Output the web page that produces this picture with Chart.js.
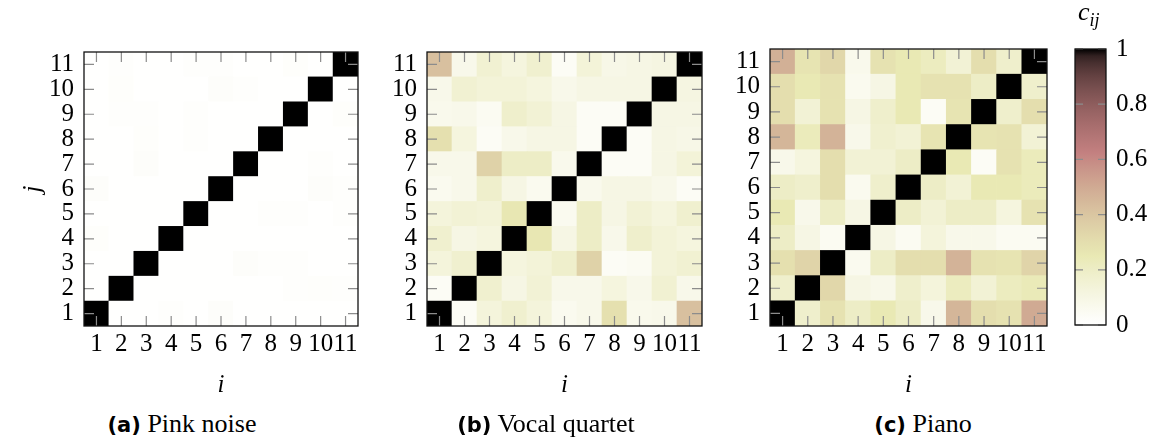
<!DOCTYPE html>
<html>
<head>
<meta charset="utf-8">
<script src="https://cdn.jsdelivr.net/npm/chart.js@4.4.1/dist/chart.umd.min.js"></script>
<style>
  body { margin: 0; background: #fff; }
  #wrap { position: relative; width: 1165px; height: 443px; overflow: hidden; background: #fff; }
  canvas { position: absolute; }
  .cap { position: absolute; top: 409px; line-height: 30px; font-family: 'Liberation Serif', serif; font-size: 26px;
         white-space: nowrap; transform: translateX(-50%); color: #000; }
  .cap b { font-family: 'DejaVu Sans', sans-serif; font-size: 21px; }
  #cij { position: absolute; left: 1078px; top: -3px; line-height: 30px; font-family: 'Liberation Serif', serif;
         font-style: italic; font-size: 26px; }
  #cij sub { font-size: 18px; }
</style>
</head>
<body>
<div id="wrap">
  <canvas id="pinkChart" width="352" height="358" style="left:14px;top:42px"></canvas>
  <canvas id="vocalChart" width="353" height="358" style="left:357px;top:42px"></canvas>
  <canvas id="pianoChart" width="355" height="361" style="left:700px;top:39px"></canvas>
  <canvas id="barChart" width="105" height="310" style="left:1060px;top:30px"></canvas>
  <div class="cap" style="left:182px"><b>(a)</b> Pink noise</div>
  <div class="cap" style="left:546px"><b>(b)</b> Vocal quartet</div>
  <div class="cap" style="left:923px"><b>(c)</b> Piano</div>
  <div id="cij">c<sub>ij</sub></div>
</div>
<script>
// tick labels
const iLabels = ['1', '2', '3', '4', '5', '6', '7', '8', '9', '10', '11'];
const jLabels = ['1', '2', '3', '4', '5', '6', '7', '8', '9', '10', '11'];
const colorbarTicks = [0, 0.2, 0.4, 0.6, 0.8, 1];

// c_ij, one row per j (j = 1 first), columns i = 1..11
const pinkNoise = [
  [1, 0.005, 0.005, 0.012, 0.005, 0.02, 0.005, 0.005, 0.005, 0.005, 0.005],
  [0.005, 1, 0.005, 0.005, 0.005, 0.005, 0.005, 0.005, 0.01, 0.015, 0.01],
  [0.005, 0.005, 1, 0.005, 0.005, 0.005, 0.018, 0.012, 0.01, 0.005, 0.005],
  [0.015, 0.005, 0.005, 1, 0.005, 0.005, 0.005, 0.005, 0.005, 0.005, 0.005],
  [0.005, 0.005, 0.005, 0.005, 1, 0.005, 0.005, 0.01, 0.01, 0.005, 0.01],
  [0.02, 0.005, 0.005, 0.005, 0.005, 1, 0.005, 0.005, 0.005, 0.018, 0.01],
  [0.005, 0.005, 0.02, 0.005, 0.005, 0.005, 1, 0.005, 0.005, 0.01, 0.005],
  [0.005, 0.005, 0.015, 0.005, 0.01, 0.005, 0.005, 1, 0.005, 0.005, 0.005],
  [0.005, 0.01, 0.01, 0.005, 0.01, 0.005, 0.005, 0.005, 1, 0.005, 0.015],
  [0.005, 0.015, 0.005, 0.005, 0.005, 0.018, 0.01, 0.005, 0.005, 1, 0.005],
  [0.005, 0.01, 0.005, 0.005, 0.01, 0.01, 0.005, 0.005, 0.015, 0.005, 1]
];

const vocalQuartet = [
  [1, 0.04, 0.13, 0.17, 0.13, 0.06, 0.08, 0.29, 0.07, 0.08, 0.42],
  [0.04, 1, 0.17, 0.10, 0.15, 0.08, 0.08, 0.12, 0.08, 0.16, 0.08],
  [0.13, 0.17, 1, 0.12, 0.14, 0.18, 0.35, 0.04, 0.05, 0.14, 0.16],
  [0.17, 0.10, 0.12, 1, 0.26, 0.10, 0.20, 0.08, 0.18, 0.14, 0.12],
  [0.13, 0.15, 0.14, 0.26, 1, 0.06, 0.20, 0.10, 0.15, 0.12, 0.17],
  [0.06, 0.08, 0.18, 0.10, 0.06, 1, 0.07, 0.10, 0.10, 0.08, 0.04],
  [0.08, 0.08, 0.35, 0.20, 0.20, 0.07, 1, 0.04, 0.04, 0.10, 0.14],
  [0.29, 0.12, 0.04, 0.08, 0.10, 0.10, 0.04, 1, 0.04, 0.10, 0.09],
  [0.07, 0.08, 0.05, 0.18, 0.15, 0.10, 0.04, 0.04, 1, 0.10, 0.10],
  [0.08, 0.16, 0.14, 0.14, 0.12, 0.08, 0.10, 0.10, 0.10, 1, 0.11],
  [0.42, 0.08, 0.16, 0.12, 0.17, 0.04, 0.14, 0.09, 0.10, 0.11, 1]
];

const piano = [
  [1, 0.18, 0.28, 0.20, 0.25, 0.20, 0.08, 0.46, 0.30, 0.28, 0.50],
  [0.18, 1, 0.33, 0.10, 0.08, 0.18, 0.13, 0.22, 0.15, 0.22, 0.24],
  [0.29, 0.34, 1, 0.06, 0.20, 0.30, 0.30, 0.47, 0.28, 0.27, 0.34],
  [0.20, 0.10, 0.05, 1, 0.10, 0.05, 0.13, 0.08, 0.08, 0.05, 0.05],
  [0.25, 0.08, 0.20, 0.10, 1, 0.20, 0.15, 0.20, 0.20, 0.12, 0.28],
  [0.20, 0.18, 0.30, 0.06, 0.18, 1, 0.20, 0.15, 0.25, 0.25, 0.23],
  [0.08, 0.12, 0.30, 0.15, 0.15, 0.20, 1, 0.25, 0.04, 0.28, 0.23],
  [0.46, 0.23, 0.47, 0.08, 0.17, 0.15, 0.27, 1, 0.27, 0.28, 0.15],
  [0.30, 0.15, 0.28, 0.10, 0.18, 0.25, 0.04, 0.27, 1, 0.18, 0.30],
  [0.30, 0.25, 0.28, 0.06, 0.10, 0.25, 0.28, 0.28, 0.20, 1, 0.18],
  [0.48, 0.27, 0.33, 0.07, 0.28, 0.25, 0.22, 0.15, 0.30, 0.18, 1]
];

const serif = "'Liberation Serif', serif";

// reversed "pink" colormap: 0 -> white, 1 -> black
const pinkColor = (v) => {
  const x = 1 - Math.min(1, Math.max(0, v));
  const hot = [
    Math.min(1, x / 0.375),
    Math.min(1, Math.max(0, (x - 0.375) / 0.375)),
    Math.max(0, (x - 0.75) / 0.25)
  ];
  const c = hot.map(h => Math.round(255 * Math.sqrt((2 * x + h) / 3)));
  return `rgb(${c[0]},${c[1]},${c[2]})`;
};

// frame plus the short inward ticks on all four sides
const framePlugin = {
  id: 'frame',
  afterDatasetsDraw(chart, args, opts) {
    const {ctx, chartArea: a, scales} = chart;
    const len = opts.tickLen;
    ctx.save();
    ctx.strokeStyle = '#8c8c8c';
    ctx.lineWidth = 1.2;
    ctx.beginPath();
    if (opts.xTicks) {
      scales.x.ticks.forEach((t, k) => {
        const px = scales.x.getPixelForTick(k);
        ctx.moveTo(px, a.bottom); ctx.lineTo(px, a.bottom - len);
        ctx.moveTo(px, a.top); ctx.lineTo(px, a.top + len);
      });
    }
    scales.y.ticks.forEach(t => {
      const py = scales.y.getPixelForValue(t.value);
      ctx.moveTo(a.left, py); ctx.lineTo(a.left + len, py);
      ctx.moveTo(a.right, py); ctx.lineTo(a.right - len, py);
    });
    ctx.stroke();
    ctx.strokeStyle = '#111';
    ctx.lineWidth = 1.3;
    ctx.strokeRect(a.left, a.top, a.width, a.height);
    ctx.restore();
  }
};

/**
 * Draws one 11x11 matrix as floating bars, one dataset per row j
 */
const heatmap = (id, matrix, showJ) => {
  const datasets = matrix.map((row, k) => ({
    data: row.map(() => [k + 0.5, k + 1.5]),
    backgroundColor: row.map(pinkColor),
    borderWidth: 0,
    barPercentage: 1,
    categoryPercentage: 1,
    grouped: false
  }));

  new Chart(document.getElementById(id), {
    type: 'bar',
    data: {labels: iLabels, datasets: datasets},
    plugins: [framePlugin],
    options: {
      responsive: false,
      animation: false,
      devicePixelRatio: 1,
      layout: {padding: {top: 10, right: 8, left: 0, bottom: 0}},
      plugins: {legend: {display: false}, tooltip: {enabled: false}, frame: {tickLen: 10, xTicks: true}},
      scales: {
        x: {
          type: 'category',
          offset: true,
          grid: {display: false, drawTicks: false},
          border: {display: false},
          ticks: {autoSkip: false, maxRotation: 0, padding: 3, color: '#000', font: {family: serif, size: 25}},
          title: {display: true, text: 'i', color: '#000', padding: 0, font: {family: serif, size: 25, style: 'italic'}},
          afterFit: (s) => { s.height = 74; s.paddingLeft = 0; s.paddingRight = 0; }
        },
        y: {
          type: 'linear',
          min: 0.5,
          max: 11.5,
          grid: {display: false, drawTicks: false},
          border: {display: false},
          afterBuildTicks: (s) => { s.ticks = jLabels.map((l, k) => ({value: k + 1})); },
          ticks: {autoSkip: false, padding: 10, color: '#000', font: {family: serif, size: 25}, callback: (v) => jLabels[v - 1]},
          title: {display: showJ, text: 'j', color: '#000', padding: {top: 4, bottom: 0}, font: {family: serif, size: 25, style: 'italic'}},
          afterFit: (s) => { s.width = 70; s.paddingTop = 0; s.paddingBottom = 0; }
        }
      }
    }
  });
};

heatmap('pinkChart', pinkNoise, true);
heatmap('vocalChart', vocalQuartet, false);
heatmap('pianoChart', piano, false);

// colour bar
new Chart(document.getElementById('barChart'), {
  type: 'bar',
  data: {
    labels: [''],
    datasets: [{
      data: [[0, 1]],
      borderWidth: 0,
      barPercentage: 1,
      categoryPercentage: 1,
      backgroundColor: (c) => {
        const {chart} = c;
        if (!chart.chartArea) return '#fff';
        const y = chart.scales.y;
        const g = chart.ctx.createLinearGradient(0, y.getPixelForValue(0), 0, y.getPixelForValue(1));
        for (let s = 0; s <= 40; s++) g.addColorStop(s / 40, pinkColor(s / 40));
        return g;
      }
    }]
  },
  plugins: [framePlugin],
  options: {
    responsive: false,
    animation: false,
    devicePixelRatio: 1,
    layout: {padding: {top: 19, right: 0, left: 15, bottom: 15}},
    plugins: {legend: {display: false}, tooltip: {enabled: false}, frame: {tickLen: 8, xTicks: false}},
    scales: {
      x: {display: false},
      y: {
        position: 'right',
        min: 0,
        max: 1,
        grid: {display: false, drawTicks: false},
        border: {display: false},
        afterBuildTicks: (s) => { s.ticks = colorbarTicks.map(v => ({value: v})); },
        ticks: {autoSkip: false, padding: 10, color: '#000', font: {family: serif, size: 25}, callback: (v) => String(Math.round(v * 10) / 10)},
        afterFit: (s) => { s.width = 59; s.paddingTop = 0; s.paddingBottom = 0; }
      }
    }
  }
});
</script>
</body>
</html>
